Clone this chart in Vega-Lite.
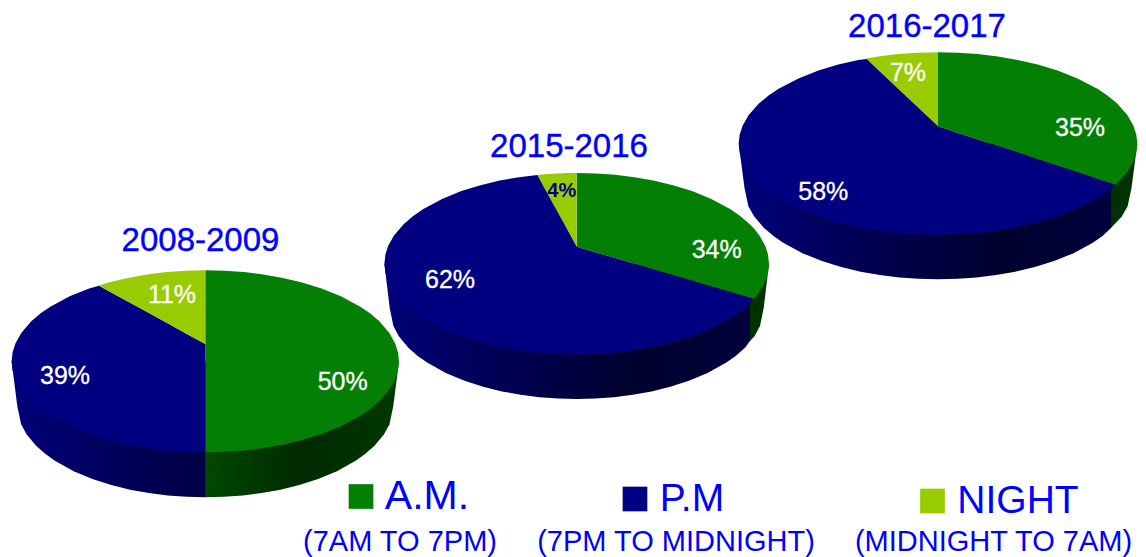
{
"$schema":"https://vega.github.io/schema/vega-lite/v6.json",
"width":1146,"height":557,"padding":0,"autosize":"none","background":"white",
"config":{"view":{"stroke":null}},
"datasets":{
"walls":[
{"pie":"2008-2009","slice":"P.M","x":11.6,"y":361.3,"y2":361.3},{"pie":"2008-2009","slice":"P.M","x":17.3,"y":361.3,"y2":406},{"pie":"2008-2009","slice":"P.M","x":21.1,"y":361.3,"y2":424.2},{"pie":"2008-2009","slice":"P.M","x":26.7,"y":361.3,"y2":434.5},{"pie":"2008-2009","slice":"P.M","x":36.1,"y":361.3,"y2":445.8},{"pie":"2008-2009","slice":"P.M","x":45.5,"y":361.3,"y2":454.1},{"pie":"2008-2009","slice":"P.M","x":54.9,"y":361.3,"y2":460.8},{"pie":"2008-2009","slice":"P.M","x":73.7,"y":361.3,"y2":471.2},{"pie":"2008-2009","slice":"P.M","x":92.5,"y":361.3,"y2":479},{"pie":"2008-2009","slice":"P.M","x":111.3,"y":361.3,"y2":485.1},{"pie":"2008-2009","slice":"P.M","x":130.1,"y":361.3,"y2":489.7},{"pie":"2008-2009","slice":"P.M","x":148.9,"y":361.3,"y2":493.1},{"pie":"2008-2009","slice":"P.M","x":167.7,"y":361.3,"y2":495.5},{"pie":"2008-2009","slice":"P.M","x":186.5,"y":361.3,"y2":496.8},{"pie":"2008-2009","slice":"P.M","x":206,"y":361.3,"y2":497.3},
{"pie":"2008-2009","slice":"A.M.","x":205.3,"y":361.3,"y2":497.3},{"pie":"2008-2009","slice":"A.M.","x":224.1,"y":361.3,"y2":496.8},{"pie":"2008-2009","slice":"A.M.","x":242.9,"y":361.3,"y2":495.5},{"pie":"2008-2009","slice":"A.M.","x":261.7,"y":361.3,"y2":493.1},{"pie":"2008-2009","slice":"A.M.","x":280.5,"y":361.3,"y2":489.7},{"pie":"2008-2009","slice":"A.M.","x":299.3,"y":361.3,"y2":485.1},{"pie":"2008-2009","slice":"A.M.","x":318.1,"y":361.3,"y2":479},{"pie":"2008-2009","slice":"A.M.","x":336.9,"y":361.3,"y2":471.2},{"pie":"2008-2009","slice":"A.M.","x":355.7,"y":361.3,"y2":460.8},{"pie":"2008-2009","slice":"A.M.","x":365.1,"y":361.3,"y2":454.1},{"pie":"2008-2009","slice":"A.M.","x":374.5,"y":361.3,"y2":445.8},{"pie":"2008-2009","slice":"A.M.","x":383.9,"y":361.3,"y2":434.5},{"pie":"2008-2009","slice":"A.M.","x":389.5,"y":361.3,"y2":424.2},{"pie":"2008-2009","slice":"A.M.","x":393.3,"y":361.3,"y2":406},{"pie":"2008-2009","slice":"A.M.","x":399,"y":361.3,"y2":361.3},
{"pie":"2015-2016","slice":"P.M","x":384.4,"y":263.7,"y2":263.7},{"pie":"2015-2016","slice":"P.M","x":389.7,"y":263.7,"y2":308},{"pie":"2015-2016","slice":"P.M","x":393.4,"y":263.7,"y2":326.1},{"pie":"2015-2016","slice":"P.M","x":399,"y":263.7,"y2":336.4},{"pie":"2015-2016","slice":"P.M","x":408.4,"y":263.7,"y2":347.7},{"pie":"2015-2016","slice":"P.M","x":417.7,"y":263.7,"y2":356},{"pie":"2015-2016","slice":"P.M","x":427.1,"y":263.7,"y2":362.6},{"pie":"2015-2016","slice":"P.M","x":445.8,"y":263.7,"y2":373},{"pie":"2015-2016","slice":"P.M","x":464.5,"y":263.7,"y2":380.8},{"pie":"2015-2016","slice":"P.M","x":483.2,"y":263.7,"y2":386.8},{"pie":"2015-2016","slice":"P.M","x":501.9,"y":263.7,"y2":391.4},{"pie":"2015-2016","slice":"P.M","x":520.6,"y":263.7,"y2":394.8},{"pie":"2015-2016","slice":"P.M","x":539.3,"y":263.7,"y2":397.2},{"pie":"2015-2016","slice":"P.M","x":558,"y":263.7,"y2":398.5},{"pie":"2015-2016","slice":"P.M","x":576.7,"y":263.7,"y2":399},{"pie":"2015-2016","slice":"P.M","x":595.4,"y":263.7,"y2":398.5},{"pie":"2015-2016","slice":"P.M","x":614.1,"y":263.7,"y2":397.2},{"pie":"2015-2016","slice":"P.M","x":632.8,"y":263.7,"y2":394.8},{"pie":"2015-2016","slice":"P.M","x":651.5,"y":263.7,"y2":391.4},{"pie":"2015-2016","slice":"P.M","x":670.2,"y":263.7,"y2":386.8},{"pie":"2015-2016","slice":"P.M","x":688.9,"y":263.7,"y2":380.8},{"pie":"2015-2016","slice":"P.M","x":707.6,"y":263.7,"y2":373},{"pie":"2015-2016","slice":"P.M","x":726.3,"y":263.7,"y2":362.6},{"pie":"2015-2016","slice":"P.M","x":735.7,"y":263.7,"y2":356},{"pie":"2015-2016","slice":"P.M","x":745,"y":263.7,"y2":347.7},{"pie":"2015-2016","slice":"P.M","x":750,"y":263.7,"y2":341},
{"pie":"2015-2016","slice":"A.M.","x":750,"y":263.7,"y2":341},{"pie":"2015-2016","slice":"A.M.","x":754.4,"y":263.7,"y2":336.4},{"pie":"2015-2016","slice":"A.M.","x":760,"y":263.7,"y2":326.1},{"pie":"2015-2016","slice":"A.M.","x":763.7,"y":263.7,"y2":308},{"pie":"2015-2016","slice":"A.M.","x":769,"y":263.7,"y2":263.7},
{"pie":"2016-2017","slice":"P.M","x":738.7,"y":143.5,"y2":143.5},{"pie":"2016-2017","slice":"P.M","x":744.5,"y":143.5,"y2":188},{"pie":"2016-2017","slice":"P.M","x":748.4,"y":143.5,"y2":206.2},{"pie":"2016-2017","slice":"P.M","x":754.2,"y":143.5,"y2":216.5},{"pie":"2016-2017","slice":"P.M","x":763.8,"y":143.5,"y2":227.8},{"pie":"2016-2017","slice":"P.M","x":773.5,"y":143.5,"y2":236.1},{"pie":"2016-2017","slice":"P.M","x":783.2,"y":143.5,"y2":242.8},{"pie":"2016-2017","slice":"P.M","x":802.5,"y":143.5,"y2":253.2},{"pie":"2016-2017","slice":"P.M","x":821.9,"y":143.5,"y2":261},{"pie":"2016-2017","slice":"P.M","x":841.2,"y":143.5,"y2":267.1},{"pie":"2016-2017","slice":"P.M","x":860.6,"y":143.5,"y2":271.7},{"pie":"2016-2017","slice":"P.M","x":880,"y":143.5,"y2":275.1},{"pie":"2016-2017","slice":"P.M","x":899.3,"y":143.5,"y2":277.5},{"pie":"2016-2017","slice":"P.M","x":918.6,"y":143.5,"y2":278.8},{"pie":"2016-2017","slice":"P.M","x":938,"y":143.5,"y2":279.3},{"pie":"2016-2017","slice":"P.M","x":957.4,"y":143.5,"y2":278.8},{"pie":"2016-2017","slice":"P.M","x":976.7,"y":143.5,"y2":277.5},{"pie":"2016-2017","slice":"P.M","x":996,"y":143.5,"y2":275.1},{"pie":"2016-2017","slice":"P.M","x":1015.4,"y":143.5,"y2":271.7},{"pie":"2016-2017","slice":"P.M","x":1034.8,"y":143.5,"y2":267.1},{"pie":"2016-2017","slice":"P.M","x":1054.1,"y":143.5,"y2":261},{"pie":"2016-2017","slice":"P.M","x":1073.5,"y":143.5,"y2":253.2},{"pie":"2016-2017","slice":"P.M","x":1092.8,"y":143.5,"y2":242.8},{"pie":"2016-2017","slice":"P.M","x":1102.5,"y":143.5,"y2":236.1},{"pie":"2016-2017","slice":"P.M","x":1111,"y":143.5,"y2":228},
{"pie":"2016-2017","slice":"A.M.","x":1111,"y":143.5,"y2":228},{"pie":"2016-2017","slice":"A.M.","x":1121.8,"y":143.5,"y2":216.5},{"pie":"2016-2017","slice":"A.M.","x":1127.6,"y":143.5,"y2":206.2},{"pie":"2016-2017","slice":"A.M.","x":1131.5,"y":143.5,"y2":188},{"pie":"2016-2017","slice":"A.M.","x":1137.3,"y":143.5,"y2":143.5}
],
"faces":[
{"pie":"2008-2009","slice":"A.M.","x":205.3,"y":270.3,"y2":452.3},{"pie":"2008-2009","slice":"A.M.","x":224.7,"y":270.8,"y2":451.8},{"pie":"2008-2009","slice":"A.M.","x":244,"y":272.1,"y2":450.5},{"pie":"2008-2009","slice":"A.M.","x":263.4,"y":274.5,"y2":448.1},{"pie":"2008-2009","slice":"A.M.","x":282.8,"y":277.9,"y2":444.7},{"pie":"2008-2009","slice":"A.M.","x":302.2,"y":282.5,"y2":440.1},{"pie":"2008-2009","slice":"A.M.","x":321.5,"y":288.5,"y2":434.1},{"pie":"2008-2009","slice":"A.M.","x":340.9,"y":296.3,"y2":426.3},{"pie":"2008-2009","slice":"A.M.","x":360.3,"y":306.7,"y2":415.9},{"pie":"2008-2009","slice":"A.M.","x":370,"y":313.3,"y2":409.3},{"pie":"2008-2009","slice":"A.M.","x":379.6,"y":321.6,"y2":401},{"pie":"2008-2009","slice":"A.M.","x":389.3,"y":332.9,"y2":389.7},{"pie":"2008-2009","slice":"A.M.","x":395.1,"y":343.2,"y2":379.4},{"pie":"2008-2009","slice":"A.M.","x":398,"y":352.2,"y2":370.4},{"pie":"2008-2009","slice":"A.M.","x":399,"y":361.3,"y2":361.3},
{"pie":"2008-2009","slice":"P.M","x":11.6,"y":361.3,"y2":361.3},{"pie":"2008-2009","slice":"P.M","x":12.6,"y":352.2,"y2":370.4},{"pie":"2008-2009","slice":"P.M","x":15.5,"y":343.2,"y2":379.4},{"pie":"2008-2009","slice":"P.M","x":21.3,"y":332.9,"y2":389.7},{"pie":"2008-2009","slice":"P.M","x":31,"y":321.6,"y2":401},{"pie":"2008-2009","slice":"P.M","x":40.65,"y":313.3,"y2":409.3},{"pie":"2008-2009","slice":"P.M","x":50.3,"y":306.7,"y2":415.9},{"pie":"2008-2009","slice":"P.M","x":69.7,"y":296.3,"y2":426.3},{"pie":"2008-2009","slice":"P.M","x":89.1,"y":288.5,"y2":434.1},{"pie":"2008-2009","slice":"P.M","x":99,"y":285.7,"y2":437.4},{"pie":"2008-2009","slice":"P.M","x":108.45,"y":290.9,"y2":440.1},{"pie":"2008-2009","slice":"P.M","x":127.8,"y":301.5,"y2":444.7},{"pie":"2008-2009","slice":"P.M","x":147.2,"y":312.1,"y2":448.1},{"pie":"2008-2009","slice":"P.M","x":166.6,"y":322.7,"y2":450.5},{"pie":"2008-2009","slice":"P.M","x":185.9,"y":333.4,"y2":451.8},{"pie":"2008-2009","slice":"P.M","x":205.3,"y":344,"y2":452.3},
{"pie":"2008-2009","slice":"NIGHT","x":99,"y":285.5,"y2":285.7},{"pie":"2008-2009","slice":"NIGHT","x":108.45,"y":282.5,"y2":290.9},{"pie":"2008-2009","slice":"NIGHT","x":127.8,"y":277.9,"y2":301.5},{"pie":"2008-2009","slice":"NIGHT","x":147.2,"y":274.5,"y2":312.1},{"pie":"2008-2009","slice":"NIGHT","x":166.6,"y":272.1,"y2":322.7},{"pie":"2008-2009","slice":"NIGHT","x":185.9,"y":270.8,"y2":333.4},{"pie":"2008-2009","slice":"NIGHT","x":205.3,"y":270.3,"y2":344},
{"pie":"2015-2016","slice":"A.M.","x":576.7,"y":173,"y2":246.7},{"pie":"2015-2016","slice":"A.M.","x":595.9,"y":173.5,"y2":252.4},{"pie":"2015-2016","slice":"A.M.","x":615.2,"y":174.8,"y2":258.1},{"pie":"2015-2016","slice":"A.M.","x":634.4,"y":177.2,"y2":263.7},{"pie":"2015-2016","slice":"A.M.","x":653.6,"y":180.5,"y2":269.4},{"pie":"2015-2016","slice":"A.M.","x":672.9,"y":185.2,"y2":275.1},{"pie":"2015-2016","slice":"A.M.","x":692.1,"y":191.1,"y2":280.7},{"pie":"2015-2016","slice":"A.M.","x":711.3,"y":198.9,"y2":286.4},{"pie":"2015-2016","slice":"A.M.","x":730.5,"y":209.3,"y2":292.1},{"pie":"2015-2016","slice":"A.M.","x":740.2,"y":215.9,"y2":294.9},{"pie":"2015-2016","slice":"A.M.","x":749.8,"y":224.2,"y2":297.8},{"pie":"2015-2016","slice":"A.M.","x":754,"y":228.6,"y2":299},{"pie":"2015-2016","slice":"A.M.","x":759.4,"y":235.4,"y2":292},{"pie":"2015-2016","slice":"A.M.","x":765.2,"y":245.7,"y2":281.7},{"pie":"2015-2016","slice":"A.M.","x":768,"y":254.6,"y2":272.8},{"pie":"2015-2016","slice":"A.M.","x":769,"y":263.7,"y2":263.7},
{"pie":"2015-2016","slice":"NIGHT","x":537.3,"y":175,"y2":175},{"pie":"2015-2016","slice":"NIGHT","x":547.4,"y":174.1,"y2":193.4},{"pie":"2015-2016","slice":"NIGHT","x":557.5,"y":173.5,"y2":211.8},{"pie":"2015-2016","slice":"NIGHT","x":567,"y":173.1,"y2":229},{"pie":"2015-2016","slice":"NIGHT","x":576.7,"y":173,"y2":246.7},
{"pie":"2015-2016","slice":"P.M","x":384.4,"y":263.7,"y2":263.7},{"pie":"2015-2016","slice":"P.M","x":385.4,"y":254.6,"y2":272.8},{"pie":"2015-2016","slice":"P.M","x":388.2,"y":245.7,"y2":281.7},{"pie":"2015-2016","slice":"P.M","x":394,"y":235.4,"y2":292},{"pie":"2015-2016","slice":"P.M","x":403.6,"y":224.2,"y2":303.2},{"pie":"2015-2016","slice":"P.M","x":413.2,"y":215.9,"y2":311.5},{"pie":"2015-2016","slice":"P.M","x":422.9,"y":209.3,"y2":318.1},{"pie":"2015-2016","slice":"P.M","x":442.1,"y":198.9,"y2":328.5},{"pie":"2015-2016","slice":"P.M","x":461.3,"y":191.1,"y2":336.3},{"pie":"2015-2016","slice":"P.M","x":480.5,"y":185.2,"y2":342.2},{"pie":"2015-2016","slice":"P.M","x":499.8,"y":180.5,"y2":346.9},{"pie":"2015-2016","slice":"P.M","x":519,"y":177.2,"y2":350.2},{"pie":"2015-2016","slice":"P.M","x":537.3,"y":175,"y2":352.5},{"pie":"2015-2016","slice":"P.M","x":547.4,"y":193.4,"y2":353.3},{"pie":"2015-2016","slice":"P.M","x":557.5,"y":211.8,"y2":353.9},{"pie":"2015-2016","slice":"P.M","x":567,"y":229,"y2":354.3},{"pie":"2015-2016","slice":"P.M","x":576.7,"y":246.7,"y2":354.4},{"pie":"2015-2016","slice":"P.M","x":595.9,"y":252.4,"y2":353.9},{"pie":"2015-2016","slice":"P.M","x":615.2,"y":258.1,"y2":352.6},{"pie":"2015-2016","slice":"P.M","x":634.4,"y":263.7,"y2":350.2},{"pie":"2015-2016","slice":"P.M","x":653.6,"y":269.4,"y2":346.9},{"pie":"2015-2016","slice":"P.M","x":672.9,"y":275.1,"y2":342.2},{"pie":"2015-2016","slice":"P.M","x":692.1,"y":280.7,"y2":336.3},{"pie":"2015-2016","slice":"P.M","x":711.3,"y":286.4,"y2":328.5},{"pie":"2015-2016","slice":"P.M","x":730.5,"y":292.1,"y2":318.1},{"pie":"2015-2016","slice":"P.M","x":740.2,"y":294.9,"y2":311.5},{"pie":"2015-2016","slice":"P.M","x":749.8,"y":297.8,"y2":303.2},{"pie":"2015-2016","slice":"P.M","x":754,"y":299,"y2":299},
{"pie":"2016-2017","slice":"A.M.","x":938,"y":52.3,"y2":126.3},{"pie":"2016-2017","slice":"A.M.","x":957.9,"y":52.8,"y2":132.9},{"pie":"2016-2017","slice":"A.M.","x":977.9,"y":54.1,"y2":139.5},{"pie":"2016-2017","slice":"A.M.","x":997.8,"y":56.5,"y2":146},{"pie":"2016-2017","slice":"A.M.","x":1017.7,"y":59.9,"y2":152.6},{"pie":"2016-2017","slice":"A.M.","x":1037.7,"y":64.5,"y2":159.2},{"pie":"2016-2017","slice":"A.M.","x":1057.6,"y":70.5,"y2":165.7},{"pie":"2016-2017","slice":"A.M.","x":1077.5,"y":78.4,"y2":172.3},{"pie":"2016-2017","slice":"A.M.","x":1097.4,"y":88.8,"y2":178.9},{"pie":"2016-2017","slice":"A.M.","x":1107.4,"y":95.4,"y2":182.2},{"pie":"2016-2017","slice":"A.M.","x":1116,"y":102.5,"y2":185},{"pie":"2016-2017","slice":"A.M.","x":1117.4,"y":103.7,"y2":183.3},{"pie":"2016-2017","slice":"A.M.","x":1127.3,"y":115,"y2":172},{"pie":"2016-2017","slice":"A.M.","x":1133.3,"y":125.4,"y2":161.6},{"pie":"2016-2017","slice":"A.M.","x":1136.3,"y":134.4,"y2":152.6},{"pie":"2016-2017","slice":"A.M.","x":1137.3,"y":143.5,"y2":143.5},
{"pie":"2016-2017","slice":"NIGHT","x":866.7,"y":58.6,"y2":59},{"pie":"2016-2017","slice":"NIGHT","x":878.2,"y":56.5,"y2":69.9},{"pie":"2016-2017","slice":"NIGHT","x":898.1,"y":54.1,"y2":88.7},{"pie":"2016-2017","slice":"NIGHT","x":918.1,"y":52.8,"y2":107.5},{"pie":"2016-2017","slice":"NIGHT","x":938,"y":52.3,"y2":126.3},
{"pie":"2016-2017","slice":"P.M","x":738.7,"y":143.5,"y2":143.5},{"pie":"2016-2017","slice":"P.M","x":739.7,"y":134.4,"y2":152.6},{"pie":"2016-2017","slice":"P.M","x":742.7,"y":125.4,"y2":161.6},{"pie":"2016-2017","slice":"P.M","x":748.7,"y":115,"y2":172},{"pie":"2016-2017","slice":"P.M","x":758.6,"y":103.7,"y2":183.3},{"pie":"2016-2017","slice":"P.M","x":768.6,"y":95.4,"y2":191.6},{"pie":"2016-2017","slice":"P.M","x":778.6,"y":88.8,"y2":198.2},{"pie":"2016-2017","slice":"P.M","x":798.5,"y":78.4,"y2":208.6},{"pie":"2016-2017","slice":"P.M","x":818.4,"y":70.5,"y2":216.5},{"pie":"2016-2017","slice":"P.M","x":838.3,"y":64.5,"y2":222.5},{"pie":"2016-2017","slice":"P.M","x":858.3,"y":59.9,"y2":227.1},{"pie":"2016-2017","slice":"P.M","x":866.7,"y":59,"y2":228.7},{"pie":"2016-2017","slice":"P.M","x":878.2,"y":69.9,"y2":230.5},{"pie":"2016-2017","slice":"P.M","x":898.1,"y":88.7,"y2":232.9},{"pie":"2016-2017","slice":"P.M","x":918.1,"y":107.5,"y2":234.2},{"pie":"2016-2017","slice":"P.M","x":938,"y":126.3,"y2":234.7},{"pie":"2016-2017","slice":"P.M","x":957.9,"y":132.9,"y2":234.2},{"pie":"2016-2017","slice":"P.M","x":977.9,"y":139.5,"y2":232.9},{"pie":"2016-2017","slice":"P.M","x":997.8,"y":146,"y2":230.5},{"pie":"2016-2017","slice":"P.M","x":1017.7,"y":152.6,"y2":227.1},{"pie":"2016-2017","slice":"P.M","x":1037.7,"y":159.2,"y2":222.5},{"pie":"2016-2017","slice":"P.M","x":1057.6,"y":165.7,"y2":216.5},{"pie":"2016-2017","slice":"P.M","x":1077.5,"y":172.3,"y2":208.6},{"pie":"2016-2017","slice":"P.M","x":1097.4,"y":178.9,"y2":198.2},{"pie":"2016-2017","slice":"P.M","x":1107.4,"y":182.2,"y2":191.6},{"pie":"2016-2017","slice":"P.M","x":1116,"y":185,"y2":185}
],
"labels":[
{"kind":"title","label":"2008-2009","x":200.5,"y":251},{"kind":"title","label":"2015-2016","x":569,"y":156.7},{"kind":"title","label":"2016-2017","x":927,"y":37},
{"kind":"share","label":"50%","x":342.7,"y":390},{"kind":"share","label":"39%","x":65,"y":384.3},{"kind":"share","label":"11%","x":172,"y":303},
{"kind":"share","label":"34%","x":716.7,"y":257.7},{"kind":"share","label":"62%","x":450,"y":287.7},
{"kind":"share","label":"35%","x":1080,"y":136},{"kind":"share","label":"58%","x":823.3,"y":200},{"kind":"share","label":"7%","x":908,"y":81},
{"kind":"small","label":"4%","x":561.8,"y":197.3},
{"kind":"headAM","label":"A.M.","x":427,"y":509},{"kind":"head","label":"P.M","x":692,"y":511},{"kind":"head","label":"NIGHT","x":1018,"y":513},
{"kind":"sub","label":"(7AM TO 7PM)","x":400,"y":551},{"kind":"sub","label":"(7PM TO MIDNIGHT)","x":676,"y":551},{"kind":"sub","label":"(MIDNIGHT TO 7AM)","x":993.5,"y":551}
],
"keys":[{"slice":"A.M.","x":361,"y":496.5},{"slice":"P.M","x":635,"y":499},{"slice":"NIGHT","x":932.5,"y":501}]
},
"layer":[
{"data":{"name":"walls"},"transform":[{"filter":"datum.slice=='P.M' && datum.pie=='2008-2009'"}],
 "mark":{"type":"area","fill":{"gradient":"linear","x1":0,"y1":0,"x2":1,"y2":0,"stops":[{"offset":0,"color":"#00007a"},{"offset":0.5,"color":"#00005c"},{"offset":1,"color":"#000046"}]}},
 "encoding":{"x":{"field":"x","type":"quantitative","scale":{"domain":[0,1146]},"axis":null},"y":{"field":"y","type":"quantitative","scale":{"domain":[557,0]},"axis":null,"stack":null},"y2":{"field":"y2"},"detail":{"field":"pie"}}},
{"data":{"name":"walls"},"transform":[{"filter":"datum.slice=='P.M' && datum.pie!='2008-2009'"}],
 "mark":{"type":"area","fill":{"gradient":"linear","x1":0,"y1":0,"x2":1,"y2":0,"stops":[{"offset":0,"color":"#00007a"},{"offset":0.2,"color":"#000060"},{"offset":0.7,"color":"#00002e"},{"offset":1,"color":"#00003c"}]}},
 "encoding":{"x":{"field":"x","type":"quantitative","scale":{"domain":[0,1146]},"axis":null},"y":{"field":"y","type":"quantitative","scale":{"domain":[557,0]},"axis":null,"stack":null},"y2":{"field":"y2"},"detail":{"field":"pie"}}},
{"data":{"name":"walls"},"transform":[{"filter":"datum.slice=='A.M.' && datum.pie=='2008-2009'"}],
 "mark":{"type":"area","fill":{"gradient":"linear","x1":0,"y1":0,"x2":1,"y2":0,"stops":[{"offset":0,"color":"#004800"},{"offset":0.5,"color":"#002a00"},{"offset":1,"color":"#003800"}]}},
 "encoding":{"x":{"field":"x","type":"quantitative","scale":{"domain":[0,1146]},"axis":null},"y":{"field":"y","type":"quantitative","scale":{"domain":[557,0]},"axis":null,"stack":null},"y2":{"field":"y2"},"detail":{"field":"pie"}}},
{"data":{"name":"walls"},"transform":[{"filter":"datum.slice=='A.M.' && datum.pie!='2008-2009'"}],
 "mark":{"type":"area","fill":"#003200"},
 "encoding":{"x":{"field":"x","type":"quantitative","scale":{"domain":[0,1146]},"axis":null},"y":{"field":"y","type":"quantitative","scale":{"domain":[557,0]},"axis":null,"stack":null},"y2":{"field":"y2"},"detail":{"field":"pie"}}},
{"data":{"name":"faces"},
 "mark":{"type":"area"},
 "encoding":{"x":{"field":"x","type":"quantitative","scale":{"domain":[0,1146]},"axis":null},"y":{"field":"y","type":"quantitative","scale":{"domain":[557,0]},"axis":null,"stack":null},"y2":{"field":"y2"},"detail":{"field":"pie"},
  "color":{"field":"slice","type":"nominal","scale":{"domain":["A.M.","P.M","NIGHT"],"range":["#038003","#000080","#99cc00"]},"legend":null}}},
{"data":{"name":"keys"},
 "mark":{"type":"square","size":610,"opacity":1,"filled":true},
 "encoding":{"x":{"field":"x","type":"quantitative","scale":{"domain":[0,1146]},"axis":null},"y":{"field":"y","type":"quantitative","scale":{"domain":[557,0]},"axis":null},
  "color":{"field":"slice","type":"nominal","scale":{"domain":["A.M.","P.M","NIGHT"],"range":["#038003","#000080","#99cc00"]},"legend":null}}},
{"data":{"name":"labels"},"transform":[{"filter":"datum.kind=='title'"}],
 "mark":{"type":"text","font":"Liberation Sans","fontSize":33,"color":"#0000ff","stroke":"#0000ff","strokeWidth":0.4,"align":"center","baseline":"alphabetic"},
 "encoding":{"x":{"field":"x","type":"quantitative","scale":{"domain":[0,1146]},"axis":null},"y":{"field":"y","type":"quantitative","scale":{"domain":[557,0]},"axis":null},"text":{"field":"label"}}},
{"data":{"name":"labels"},"transform":[{"filter":"datum.kind=='share'"}],
 "mark":{"type":"text","font":"Liberation Sans","fontSize":25,"color":"#ffffff","stroke":"#ffffff","strokeWidth":0.3,"align":"center","baseline":"alphabetic"},
 "encoding":{"x":{"field":"x","type":"quantitative","scale":{"domain":[0,1146]},"axis":null},"y":{"field":"y","type":"quantitative","scale":{"domain":[557,0]},"axis":null},"text":{"field":"label"}}},
{"data":{"name":"labels"},"transform":[{"filter":"datum.kind=='small'"}],
 "mark":{"type":"text","font":"Liberation Sans","fontSize":20,"fontWeight":"bold","color":"#000080","align":"center","baseline":"alphabetic"},
 "encoding":{"x":{"field":"x","type":"quantitative","scale":{"domain":[0,1146]},"axis":null},"y":{"field":"y","type":"quantitative","scale":{"domain":[557,0]},"axis":null},"text":{"field":"label"}}},
{"data":{"name":"labels"},"transform":[{"filter":"datum.kind=='headAM'"}],
 "mark":{"type":"text","font":"Liberation Sans","fontSize":41,"color":"#0000ff","align":"center","baseline":"alphabetic"},
 "encoding":{"x":{"field":"x","type":"quantitative","scale":{"domain":[0,1146]},"axis":null},"y":{"field":"y","type":"quantitative","scale":{"domain":[557,0]},"axis":null},"text":{"field":"label"}}},
{"data":{"name":"labels"},"transform":[{"filter":"datum.kind=='head'"}],
 "mark":{"type":"text","font":"Liberation Sans","fontSize":39,"color":"#0000ff","align":"center","baseline":"alphabetic"},
 "encoding":{"x":{"field":"x","type":"quantitative","scale":{"domain":[0,1146]},"axis":null},"y":{"field":"y","type":"quantitative","scale":{"domain":[557,0]},"axis":null},"text":{"field":"label"}}},
{"data":{"name":"labels"},"transform":[{"filter":"datum.kind=='sub'"}],
 "mark":{"type":"text","font":"Liberation Sans","fontSize":29,"color":"#0000ff","align":"center","baseline":"alphabetic"},
 "encoding":{"x":{"field":"x","type":"quantitative","scale":{"domain":[0,1146]},"axis":null},"y":{"field":"y","type":"quantitative","scale":{"domain":[557,0]},"axis":null},"text":{"field":"label"}}}
]
}
